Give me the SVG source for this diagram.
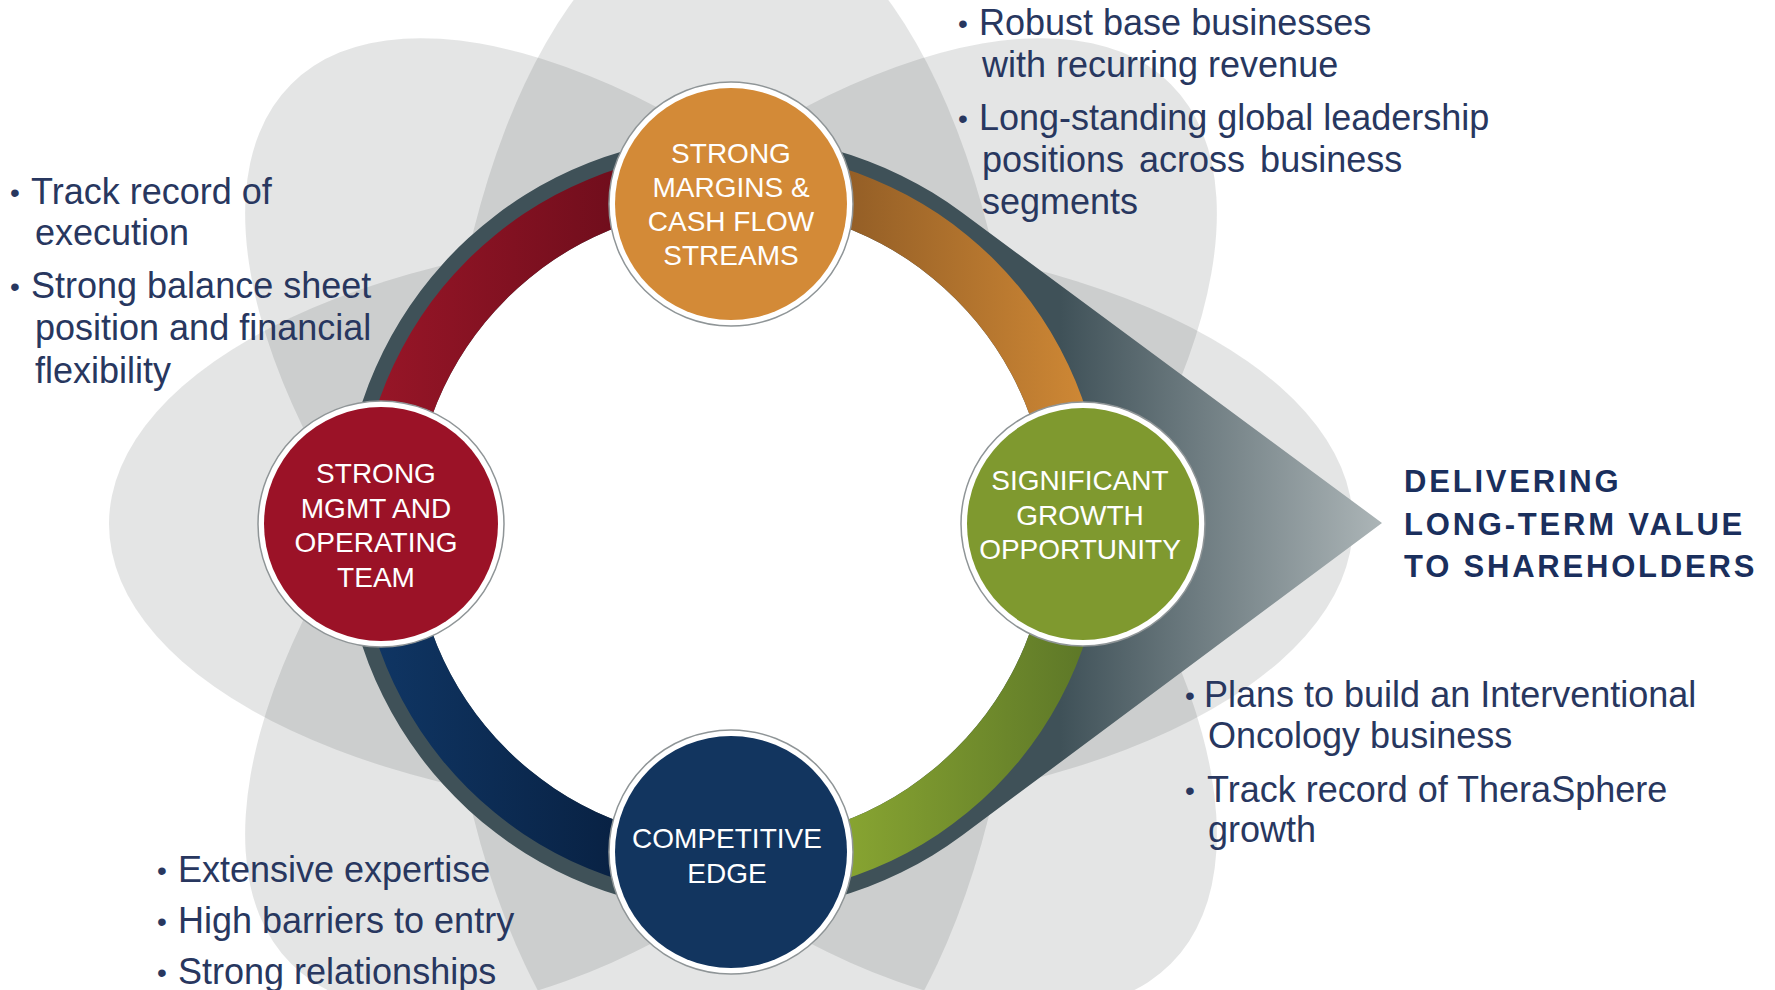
<svg xmlns="http://www.w3.org/2000/svg" width="1775" height="990" viewBox="0 0 1775 990">
<style>
.petal{fill:#1f2b2b;fill-opacity:0.12}
.bul{font-family:"Liberation Sans",Arial,sans-serif;font-size:36px;fill:#28375f}
.dot{font-family:"Liberation Sans",Arial,sans-serif;font-size:28px;fill:#28375f}
.nt{font-family:"Liberation Sans",Arial,sans-serif;font-size:28px;fill:#ffffff;text-anchor:middle}
.title{font-family:"Liberation Sans",Arial,sans-serif;font-size:31px;font-weight:bold;fill:#1a2f5d;letter-spacing:2.8px}
.ring{fill:#ffffff;stroke:#8f9597;stroke-width:1.5}
</style>
<defs>
<linearGradient id="gWedge" gradientUnits="userSpaceOnUse" x1="1060" y1="0" x2="1382" y2="0">
<stop offset="0" stop-color="#3f5158"/><stop offset="1" stop-color="#acb5b7"/>
</linearGradient>
<linearGradient id="gRed" x1="0" y1="0" x2="1" y2="0">
<stop offset="0" stop-color="#9a1628"/><stop offset="1" stop-color="#5e0a17"/>
</linearGradient>
<linearGradient id="gOrange" x1="0" y1="0" x2="1" y2="0">
<stop offset="0" stop-color="#774a1f"/><stop offset="1" stop-color="#d38b36"/>
</linearGradient>
<linearGradient id="gGreen" x1="0" y1="0" x2="1" y2="0">
<stop offset="0" stop-color="#9cba36"/><stop offset="1" stop-color="#5a7427"/>
</linearGradient>
<linearGradient id="gNavy" x1="0" y1="0" x2="1" y2="0">
<stop offset="0" stop-color="#103766"/><stop offset="1" stop-color="#051834"/>
</linearGradient>
</defs>
<rect width="1775" height="990" fill="#ffffff"/>
<g id="petals">
<ellipse class="petal" cx="731" cy="524" rx="622" ry="292"/>
<ellipse class="petal" cx="731" cy="524" rx="622" ry="292" transform="rotate(45 731 524)"/>
<ellipse class="petal" cx="731" cy="524" rx="622" ry="292" transform="rotate(90 731 524)"/>
<ellipse class="petal" cx="731" cy="524" rx="622" ry="292" transform="rotate(135 731 524)"/>
</g>
<g id="wedge">
<path d="M962,212.5 L1382,523 L962,835.5 A388,388 0 1 1 962,212.5 Z" fill="url(#gWedge)"/>
<circle cx="731" cy="524" r="318" fill="#ffffff"/>
</g>
<g id="connectors">
<path d="M358,524 A373,373 0 0 1 731,151 L731,206 A318,318 0 0 0 413,524 Z" fill="url(#gRed)"/>
<path d="M731,151 A373,373 0 0 1 1104,524 L1049,524 A318,318 0 0 0 731,206 Z" fill="url(#gOrange)"/>
<path d="M1104,524 A373,373 0 0 1 731,897 L731,842 A318,318 0 0 0 1049,524 Z" fill="url(#gGreen)"/>
<path d="M731,897 A373,373 0 0 1 358,524 L413,524 A318,318 0 0 0 731,842 Z" fill="url(#gNavy)"/>
</g>
<g id="node-margins">
<circle class="ring" cx="731" cy="204" r="122"/>
<circle cx="731" cy="204" r="116" fill="#d38a37"/>
<text class="nt" x="731" y="163">STRONG</text>
<text class="nt" x="731" y="197">MARGINS &amp;</text>
<text class="nt" x="731" y="231">CASH FLOW</text>
<text class="nt" x="731" y="265">STREAMS</text>
</g>
<g id="node-mgmt">
<circle class="ring" cx="381" cy="524" r="123"/>
<circle cx="381" cy="524" r="117" fill="#9b1227"/>
<text class="nt" x="376" y="483">STRONG</text>
<text class="nt" x="376" y="518">MGMT AND</text>
<text class="nt" x="376" y="552">OPERATING</text>
<text class="nt" x="376" y="587">TEAM</text>
</g>
<g id="node-growth">
<circle class="ring" cx="1083" cy="524" r="122"/>
<circle cx="1083" cy="524" r="116" fill="#7f992f"/>
<text class="nt" x="1080" y="490">SIGNIFICANT</text>
<text class="nt" x="1080" y="525">GROWTH</text>
<text class="nt" x="1080" y="559">OPPORTUNITY</text>
</g>
<g id="node-edge">
<circle class="ring" cx="731" cy="852" r="122"/>
<circle cx="731" cy="852" r="116" fill="#12355f"/>
<text class="nt" x="727" y="848">COMPETITIVE</text>
<text class="nt" x="727" y="883">EDGE</text>
</g>
<g id="bullets-left-top">
<text class="dot" x="10" y="202">•</text>
<text class="bul" x="31" y="204">Track record of</text>
<text class="bul" x="35" y="245">execution</text>
<text class="dot" x="10" y="296">•</text>
<text class="bul" x="31" y="298">Strong balance sheet</text>
<text class="bul" x="35" y="340">position and financial</text>
<text class="bul" x="35" y="383">flexibility</text>
</g>
<g id="bullets-right-top">
<text class="dot" x="958" y="33">•</text>
<text class="bul" x="979" y="35">Robust base businesses</text>
<text class="bul" x="982" y="77">with recurring revenue</text>
<text class="dot" x="958" y="128">•</text>
<text class="bul" x="979" y="130">Long-standing global leadership</text>
<text class="bul" x="982" y="172" word-spacing="5">positions across business</text>
<text class="bul" x="982" y="214">segments</text>
</g>
<g id="bullets-right-bottom">
<text class="dot" x="1185" y="705">•</text>
<text class="bul" x="1204" y="707">Plans to build an Interventional</text>
<text class="bul" x="1208" y="748">Oncology business</text>
<text class="dot" x="1185" y="800">•</text>
<text class="bul" x="1207" y="802">Track record of TheraSphere</text>
<text class="bul" x="1208" y="842">growth</text>
</g>
<g id="bullets-left-bottom">
<text class="dot" x="157" y="880">•</text>
<text class="bul" x="178" y="882">Extensive expertise</text>
<text class="dot" x="157" y="931">•</text>
<text class="bul" x="178" y="933">High barriers to entry</text>
<text class="dot" x="157" y="982">•</text>
<text class="bul" x="178" y="984">Strong relationships</text>
</g>
<g id="title">
<text class="title" x="1404" y="492">DELIVERING</text>
<text class="title" x="1404" y="535">LONG-TERM VALUE</text>
<text class="title" x="1404" y="577">TO SHAREHOLDERS</text>
</g>
</svg>
